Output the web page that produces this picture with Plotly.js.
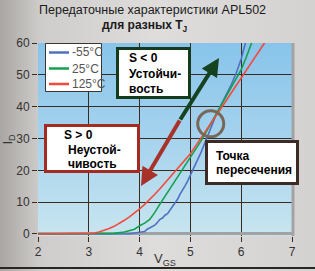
<!DOCTYPE html>
<html><head><meta charset="utf-8">
<script src="https://cdn.plot.ly/plotly-3.0.1.min.js"></script>
<style>html,body{margin:0;padding:0;background:#d8d8d8;}#chart{width:315px;height:271px;}</style>
</head><body><div id="chart"></div>
<script>
// ---- data ----
const seriesNames = ['-55°C', '25°C', '125°C'];
const vgsBlue = [2.0, 3.0, 3.5, 3.8, 3.9, 4.0, 4.1, 4.15, 4.2, 4.3, 4.35, 4.4, 4.45, 4.5, 4.55, 4.6, 4.65, 4.7, 4.75, 4.8, 4.85, 4.9, 4.95, 5.0, 5.1, 5.2, 5.3, 5.4, 5.5, 5.6, 5.7, 5.8, 5.9, 6.0, 6.1];
const idBlue  = [0, 0, 0, 0.1, 0.3, 0.6, 0.8, 1.5, 2.0, 2.8, 3.6, 4.6, 5.0, 5.9, 6.4, 7.5, 8.6, 10.0, 11.0, 12.6, 13.8, 15.3, 16.8, 18.5, 21.8, 25.3, 29.2, 33.5, 37.2, 40.5, 43.5, 46.8, 50.5, 55.0, 61.0];
const vgsGreen = [2.0, 3.0, 3.3, 3.5, 3.7, 3.9, 4.0, 4.1, 4.2, 4.3, 4.4, 4.5, 4.6, 4.7, 4.8, 4.9, 5.0, 5.1, 5.2, 5.3, 5.4, 5.5, 5.6, 5.7, 5.8, 5.9, 6.0, 6.1, 6.2, 6.25];
const idGreen  = [0, 0, 0.05, 0.2, 0.6, 1.5, 2.6, 3.4, 4.6, 6.8, 9.4, 11.8, 14.2, 16.6, 19.2, 21.5, 23.8, 26.3, 29.0, 31.8, 34.6, 37.5, 40.3, 43.2, 46.0, 48.7, 51.6, 55.5, 60.0, 62.0];
const vgsRed = [2.0, 3.0, 3.1, 3.2, 3.3, 3.4, 3.5, 3.6, 3.7, 3.8, 3.9, 4.0, 4.1, 4.2, 4.3, 4.4, 4.5, 4.6, 4.7, 4.8, 4.9, 5.0, 5.1, 5.2, 5.3, 5.4, 5.5, 5.6, 5.7, 5.8, 5.9, 6.0, 6.1, 6.2, 6.3, 6.4, 6.5];
const idRed  = [0, 0, 0.2, 0.6, 1.1, 1.7, 2.4, 3.3, 4.3, 5.4, 6.6, 7.9, 9.3, 10.8, 12.5, 14.2, 16.0, 17.8, 19.7, 21.6, 23.5, 25.2, 27.6, 29.9, 32.3, 34.7, 37.1, 39.4, 41.8, 44.2, 46.6, 49.0, 51.4, 53.8, 56.2, 58.6, 61.0];
const xTicks = [2, 3, 4, 5, 6, 7];
const yTicks = [0, 10, 20, 30, 40, 50, 60];
const titleLines = ['Передаточные характеристики APL502', 'для разных T<sub>J</sub>'];
const xTitle = 'V<sub>GS</sub>';
const yTitle = 'I<sub>D</sub>';
const stableText = ['S < 0', 'Устойчи-', 'вость'];
const unstableText = ['S > 0', 'Неустой-', 'чивость'];
const crossText = ['Точка', 'пересечения'];
// crossing point and arrow ends (data coordinates)
const crossPoint = {x: 5.4, y: 34.6};
const arrowMid = {x: 4.795, y: 35.8};
const arrowUp = {x: 5.563, y: 55.3};
const arrowDown = {x: 4.028, y: 15.1};

// ---- styling ----
const colors = ['#5070c0', '#13a04f', '#f5493b'];
const FONT = 'Liberation Sans, Arial, sans-serif';
const L = 38, R = 23, T = 43, B = 35, W = 315, H = 271;
const PW = W - L - R, PH = H - T - B;
const px = v => (v - L) / PW;
const py = v => (H - B - v) / PH;

function svgURI(svg) { return 'data:image/svg+xml;charset=utf-8,' + encodeURIComponent(svg); }
const plotBg = svgURI('<svg xmlns="http://www.w3.org/2000/svg" width="100" height="100" preserveAspectRatio="none"><defs><linearGradient id="g" x1="0" y1="0" x2="0" y2="1"><stop offset="0" stop-color="#88c4ea"/><stop offset="0.5" stop-color="#a6d3ee"/><stop offset="1" stop-color="#c8e5ef"/></linearGradient></defs><rect width="100" height="100" fill="url(#g)"/></svg>');
const paperBg = svgURI('<svg xmlns="http://www.w3.org/2000/svg" width="100" height="100" preserveAspectRatio="none"><defs><linearGradient id="g" x1="0" y1="0" x2="1" y2="0"><stop offset="0" stop-color="#a9a6a3"/><stop offset="0.13" stop-color="#cfcdcb"/><stop offset="0.5" stop-color="#dedddc"/><stop offset="1" stop-color="#d3d2d1"/></linearGradient></defs><rect width="100" height="100" fill="url(#g)"/></svg>');

const traces = [
  {x: vgsBlue, y: idBlue, name: seriesNames[0], line: {color: colors[0], width: 1.6}},
  {x: vgsGreen, y: idGreen, name: seriesNames[1], line: {color: colors[1], width: 1.6}},
  {x: vgsRed, y: idRed, name: seriesNames[2], line: {color: colors[2], width: 1.6}}
].map(t => Object.assign({type: 'scatter', mode: 'lines', showlegend: false, hoverinfo: 'skip', cliponaxis: true}, t));

const shapes = [];
const annotations = [];

// plot right border + bottom frame line of figure
shapes.push({type: 'line', xref: 'paper', yref: 'paper', x0: 1.004, x1: 1.004, y0: 0, y1: 1, line: {color: '#a3a3a3', width: 3}, layer: 'above'});
shapes.push({type: 'line', xref: 'paper', yref: 'paper', x0: px(0), x1: px(315), y0: py(268), y1: py(268), line: {color: '#2a2624', width: 2}, layer: 'above'});

// boxes
function box(x0, y0, x1, y1, color, w) {
  shapes.push({type: 'rect', xref: 'paper', yref: 'paper', x0: px(x0 + w / 2), x1: px(x1 - w / 2), y0: py(y1 - w / 2), y1: py(y0 + w / 2), fillcolor: '#ffffff', line: {color: color, width: w}, layer: 'above'});
}
box(45, 43, 102, 92, '#3a3532', 1);
box(116, 47, 191, 99, '#163a1c', 3);
box(44, 124, 140, 173, '#a52a22', 3);
box(205, 140, 299, 185, '#3b2b24', 3);

// legend samples + labels
const legY = [52.5, 68.5, 84];
seriesNames.forEach((n, i) => {
  shapes.push({type: 'line', xref: 'paper', yref: 'paper', x0: px(49), x1: px(69), y0: py(legY[i]), y1: py(legY[i]), line: {color: colors[i], width: 2.5}, layer: 'above'});
  annotations.push({xref: 'paper', yref: 'paper', x: px(70), y: py(legY[i]), xanchor: 'left', yanchor: 'middle', text: n, showarrow: false, font: {family: FONT, size: 12, color: '#555'}});
});

// text lines inside boxes
function lines(arr, xs, ys) {
  arr.forEach((t, i) => annotations.push({xref: 'paper', yref: 'paper', x: px(xs[i]), y: py(ys[i]), xanchor: 'left', yanchor: 'middle', text: '<b>' + t + '</b>', showarrow: false, font: {family: FONT, size: 12, color: '#000'}}));
}
lines(stableText, [127, 127, 127], [58, 73.5, 88.5]);
lines(unstableText, [62, 66, 66], [134.5, 150, 164]);
lines(crossText, [214, 214], [156, 170]);

// titles
annotations.push({xref: 'paper', yref: 'paper', x: px(152.5), y: py(10), xanchor: 'center', yanchor: 'middle', text: titleLines[0], showarrow: false, font: {family: FONT, size: 12.5, color: '#1a1a1a'}});
annotations.push({xref: 'paper', yref: 'paper', x: px(145), y: py(26), xanchor: 'center', yanchor: 'middle', text: '<b>' + titleLines[1] + '</b>', showarrow: false, font: {family: FONT, size: 12, color: '#1a1a1a'}});
// x axis title
annotations.push({xref: 'paper', yref: 'paper', x: px(165), y: py(259), xanchor: 'center', yanchor: 'middle', text: xTitle, showarrow: false, font: {family: FONT, size: 13, color: '#333'}});

// arrows (red drawn first, green on top), tiny text box so the line starts at the tail point
const arrowBase = {xref: 'x', yref: 'y', axref: 'x', ayref: 'y', text: '.', showarrow: true, arrowhead: 2, arrowsize: 0.9, arrowwidth: 4, standoff: 0, startstandoff: 0, borderpad: 0, borderwidth: 0, font: {size: 1, color: 'rgba(0,0,0,0)'}};
annotations.push(Object.assign({}, arrowBase, {x: arrowDown.x, y: arrowDown.y, ax: arrowMid.x, ay: arrowMid.y, arrowcolor: '#a8322a'}));
annotations.push(Object.assign({}, arrowBase, {x: arrowUp.x, y: arrowUp.y, ax: arrowMid.x, ay: arrowMid.y, arrowcolor: '#16431f'}));

// crossing circle
shapes.push({type: 'circle', xref: 'x', yref: 'y', xsizemode: 'pixel', ysizemode: 'pixel', xanchor: crossPoint.x, yanchor: crossPoint.y, x0: -13, x1: 13, y0: -13, y1: 13, line: {color: '#776858', width: 3}, layer: 'above'});

const layout = {
  width: W, height: H,
  margin: {l: L, r: R, t: T, b: B, pad: 0},
  paper_bgcolor: 'rgba(0,0,0,0)',
  plot_bgcolor: 'rgba(0,0,0,0)',
  showlegend: false,
  font: {family: FONT, size: 12, color: '#333'},
  xaxis: {
    range: [2, 7], tickvals: xTicks, ticktext: xTicks.map(String),
    showgrid: true, gridcolor: '#3a2a20', gridwidth: 1,
    zeroline: false, showline: false,
    ticks: 'outside', ticklen: 5, tickcolor: '#3a2a20', tickwidth: 1,
    tickfont: {family: FONT, size: 12, color: '#333'},
    fixedrange: true
  },
  yaxis: {
    range: [-0.63, 60], tickvals: yTicks, ticktext: yTicks.map(String),
    showgrid: true, gridcolor: '#3a2a20', gridwidth: 1,
    zeroline: true, zerolinecolor: '#a2a2a2', zerolinewidth: 3,
    showline: false,
    ticks: 'outside', ticklen: 5, tickcolor: '#3a2a20', tickwidth: 1,
    tickfont: {family: FONT, size: 12, color: '#333'},
    title: {text: yTitle, font: {family: FONT, size: 13, color: '#333'}, standoff: 2},
    fixedrange: true
  },
  images: [
    {source: paperBg, xref: 'paper', yref: 'paper', x: px(0), y: py(0), sizex: W / PW, sizey: H / PH, sizing: 'stretch', xanchor: 'left', yanchor: 'top', layer: 'below'},
    {source: plotBg, xref: 'x', yref: 'y', x: 2, y: 60, sizex: 5, sizey: 60.63, sizing: 'stretch', xanchor: 'left', yanchor: 'top', layer: 'below'}
  ],
  shapes: shapes,
  annotations: annotations
};

Plotly.newPlot('chart', traces, layout, {displayModeBar: false, staticPlot: true});
</script></body></html>
